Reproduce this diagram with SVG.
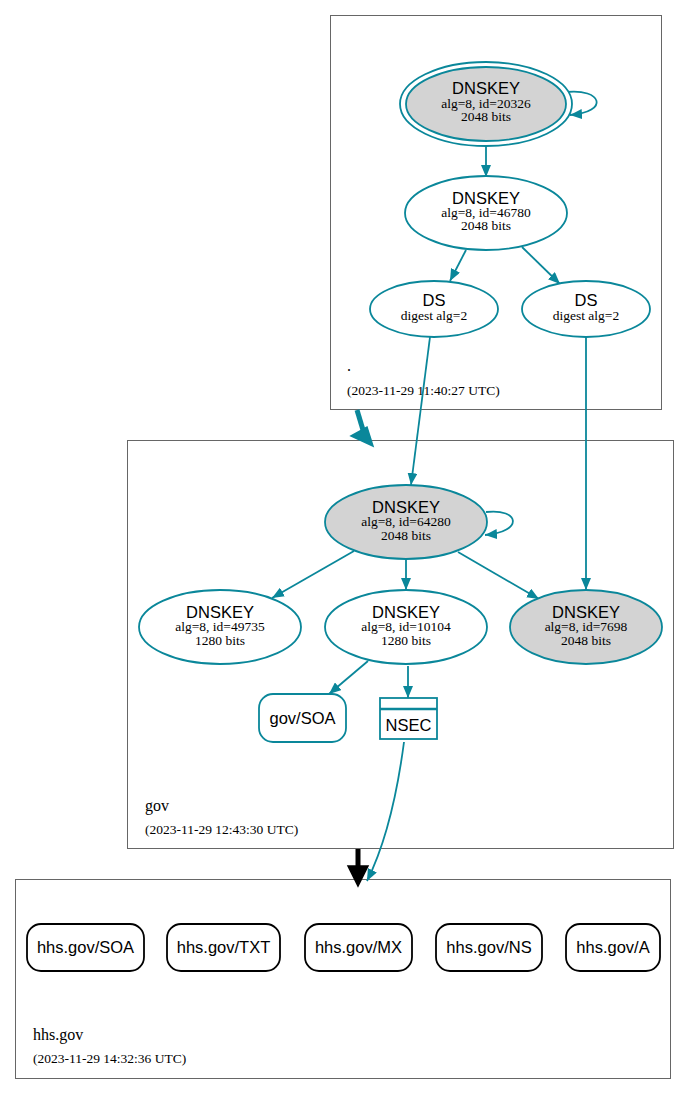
<svg xmlns="http://www.w3.org/2000/svg" width="689" height="1094" viewBox="0 0 689 1094">
<style>
.cl{fill:#fff;stroke:#666;stroke-width:1}
.k{fill:#fff;stroke:#0a879a;stroke-width:1.8}
.kg{fill:#d3d3d3;stroke:#0a879a;stroke-width:1.8}
.e{fill:none;stroke:#0a879a;stroke-width:1.8}
.r{fill:#fff;stroke:#000;stroke-width:1.8}
.t{font-family:"Liberation Sans",Arial,sans-serif;font-size:16.5px;text-anchor:middle;fill:#000}
.s{font-family:"Liberation Serif","Times New Roman",serif;font-size:13.5px;text-anchor:middle;fill:#000}
.lb{font-family:"Liberation Serif","Times New Roman",serif;font-size:16px;fill:#000}
.ts{font-family:"Liberation Serif","Times New Roman",serif;font-size:13.5px;fill:#000}
</style>
<defs>
<marker id="a" viewBox="0 0 12 10" refX="12" refY="5" markerWidth="12" markerHeight="10" markerUnits="userSpaceOnUse" orient="auto"><path d="M0,0 L12,5 L0,10 z" fill="#0a879a"/></marker>
</defs>
<g id="cluster-root">
<rect class="cl" x="330.5" y="15.5" width="331" height="394"/>
<text class="lb" x="347" y="371">.</text>
<text class="ts" x="347" y="395">(2023-11-29 11:40:27 UTC)</text>
</g>
<g id="cluster-gov">
<rect class="cl" x="127.5" y="440.5" width="546" height="408"/>
<text class="lb" x="145" y="811">gov</text>
<text class="ts" x="145" y="834">(2023-11-29 12:43:30 UTC)</text>
</g>
<g id="cluster-hhs">
<rect class="cl" x="15.5" y="879.5" width="655" height="199"/>
<text class="lb" x="33" y="1040">hhs.gov</text>
<text class="ts" x="33" y="1063">(2023-11-29 14:32:36 UTC)</text>
</g>
<g id="edges">
<path class="e" d="M566,92 C602,88 610,112 570,115" marker-end="url(#a)"/>
<path class="e" d="M486,146 L486,177" marker-end="url(#a)"/>
<path class="e" d="M466,250 L450,281" marker-end="url(#a)"/>
<path class="e" d="M522,247 L560,284" marker-end="url(#a)"/>
<path class="e" d="M430,337 L411,485" marker-end="url(#a)"/>
<path class="e" d="M586,337 L586,590" marker-end="url(#a)"/>
<path class="e" d="M486,512 C520,508 524,532 485,535" marker-end="url(#a)"/>
<path class="e" d="M354,551 L272,598" marker-end="url(#a)"/>
<path class="e" d="M406,560 L406,590" marker-end="url(#a)"/>
<path class="e" d="M458,552 L539,599" marker-end="url(#a)"/>
<path class="e" d="M368,661 L329,694" marker-end="url(#a)"/>
<path class="e" d="M408,666 L408,698" marker-end="url(#a)"/>
<path class="e" d="M404,742 C399,780 390,835 367,881" marker-end="url(#a)"/>
<path d="M357,410 L363,430" stroke="#0a879a" stroke-width="5" fill="none"/>
<polygon points="351,436 367,427 373,446" fill="#0a879a" stroke="#0a879a" stroke-width="1.5"/>
<path d="M358,849 L358,867" stroke="#000" stroke-width="5" fill="none"/>
<polygon points="348,866 368,866 358,886" fill="#000" stroke="#000" stroke-width="1.5"/>
</g>
<g id="dnskey-20326">
<ellipse class="k" cx="486" cy="104" rx="86" ry="42"/>
<ellipse class="kg" cx="486" cy="104" rx="80" ry="37"/>
<text class="t" x="486" y="94">DNSKEY</text>
<text class="s" x="486" y="108">alg=8, id=20326</text>
<text class="s" x="486" y="121">2048 bits</text>
</g>
<g id="dnskey-46780">
<ellipse class="k" cx="486" cy="213" rx="81" ry="37"/>
<text class="t" x="486" y="204">DNSKEY</text>
<text class="s" x="486" y="217">alg=8, id=46780</text>
<text class="s" x="486" y="230">2048 bits</text>
</g>
<g id="ds-1">
<ellipse class="k" cx="434" cy="309" rx="64" ry="28"/>
<text class="t" x="434" y="306">DS</text>
<text class="s" x="434" y="320">digest alg=2</text>
</g>
<g id="ds-2">
<ellipse class="k" cx="586" cy="309" rx="64" ry="28"/>
<text class="t" x="586" y="306">DS</text>
<text class="s" x="586" y="320">digest alg=2</text>
</g>
<g id="dnskey-64280">
<ellipse class="kg" cx="406" cy="522" rx="81" ry="37"/>
<text class="t" x="406" y="513">DNSKEY</text>
<text class="s" x="406" y="526">alg=8, id=64280</text>
<text class="s" x="406" y="540">2048 bits</text>
</g>
<g id="dnskey-49735">
<ellipse class="k" cx="220" cy="627" rx="81" ry="37"/>
<text class="t" x="220" y="618">DNSKEY</text>
<text class="s" x="220" y="631">alg=8, id=49735</text>
<text class="s" x="220" y="645">1280 bits</text>
</g>
<g id="dnskey-10104">
<ellipse class="k" cx="406" cy="627" rx="81" ry="37"/>
<text class="t" x="406" y="618">DNSKEY</text>
<text class="s" x="406" y="631">alg=8, id=10104</text>
<text class="s" x="406" y="645">1280 bits</text>
</g>
<g id="dnskey-7698">
<ellipse class="kg" cx="586" cy="627" rx="76" ry="37"/>
<text class="t" x="586" y="618">DNSKEY</text>
<text class="s" x="586" y="631">alg=8, id=7698</text>
<text class="s" x="586" y="645">2048 bits</text>
</g>
<g id="gov-soa">
<rect class="k" x="259" y="694" width="87" height="48" rx="14"/>
<text class="t" x="302.5" y="724">gov/SOA</text>
</g>
<g id="gov-nsec">
<rect class="k" x="380" y="698" width="57" height="41" stroke-width="2.5"/>
<line x1="380" y1="709" x2="437" y2="709" stroke="#0a879a" stroke-width="2.5"/>
<text class="t" x="408.5" y="731">NSEC</text>
</g>
<g id="hhs-soa">
<rect class="r" x="27" y="924" width="117" height="47" rx="14"/>
<text class="t" x="85.5" y="953">hhs.gov/SOA</text>
</g>
<g id="hhs-txt">
<rect class="r" x="167" y="924" width="113" height="47" rx="14"/>
<text class="t" x="223.5" y="953">hhs.gov/TXT</text>
</g>
<g id="hhs-mx">
<rect class="r" x="305" y="924" width="107" height="47" rx="14"/>
<text class="t" x="358.5" y="953">hhs.gov/MX</text>
</g>
<g id="hhs-ns">
<rect class="r" x="436" y="924" width="106" height="47" rx="14"/>
<text class="t" x="489" y="953">hhs.gov/NS</text>
</g>
<g id="hhs-a">
<rect class="r" x="566" y="924" width="94" height="47" rx="14"/>
<text class="t" x="613" y="953">hhs.gov/A</text>
</g>
</svg>
